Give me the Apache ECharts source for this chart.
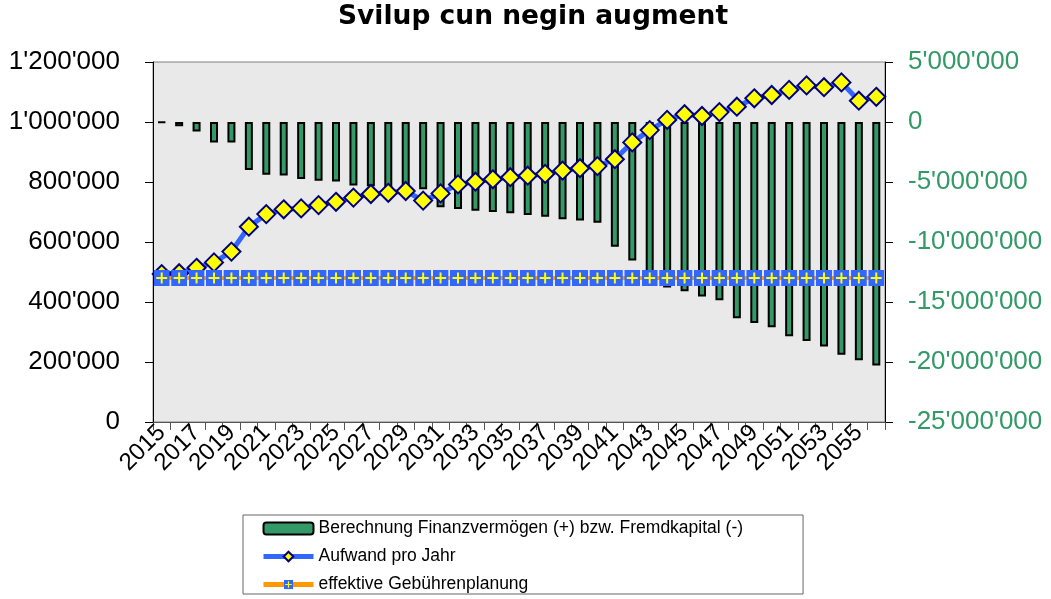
<!DOCTYPE html>
<html><head><meta charset="utf-8">
<script src="https://cdn.jsdelivr.net/npm/echarts@6/dist/echarts.min.js"></script>
<style>html,body{margin:0;padding:0;background:#fff}#c{width:1051px;height:599px}</style>
</head><body><div id="c"></div>
<script>
var years = [];
for (var y = 2015; y <= 2056; y++) years.push(String(y));
var finanz = [-50000,-350000,-800000,-1700000,-1700000,-4000000,-4400000,-4450000,-4750000,-4900000,-4950000,-5300000,-5350000,-5450000,-5550000,-5600000,-7100000,-7250000,-7400000,-7500000,-7600000,-7750000,-7900000,-8100000,-8200000,-8400000,-10400000,-11550000,-12800000,-13800000,-14100000,-14550000,-14850000,-16350000,-16750000,-17100000,-17850000,-18250000,-18700000,-19400000,-19850000,-20300000];
var aufwand = [493000,496000,514000,532000,568000,651000,693000,709000,712000,723000,734000,748000,760000,764000,770000,738000,762000,792000,801000,809000,816000,821000,827000,838000,846000,853000,876000,932000,973000,1007000,1026000,1020000,1033000,1051000,1079000,1090000,1107000,1122000,1116000,1132000,1071000,1084000];
var gebuehren = [480000,480000,480000,480000,480000,480000,480000,480000,480000,480000,480000,480000,480000,480000,480000,480000,480000,480000,480000,480000,480000,480000,480000,480000,480000,480000,480000,480000,480000,480000,480000,480000,480000,480000,480000,480000,480000,480000,480000,480000,480000,480000];
var seriesNames = ['Berechnung Finanzvermögen (+) bzw. Fremdkapital (-)','Aufwand pro Jahr','effektive Gebührenplanung'];

function fmt(v){ return String(v).replace(/\B(?=(\d{3})+(?!\d))/g, "'"); }
var plusSvg = "<svg xmlns='http://www.w3.org/2000/svg' width='16' height='16'><rect width='16' height='16' fill='#3366FF'/><path d='M8 2.5V13.5M2.5 8H13.5' stroke='#FFFF00' stroke-width='2'/></svg>";
var plusSymbol = 'image://data:image/svg+xml;charset=utf-8,' + encodeURIComponent(plusSvg);

var chart = echarts.init(document.getElementById('c'), null, {renderer:'canvas'});
chart.setOption({
  animation: false,
  backgroundColor: '#ffffff',
  title: {
    text: 'Svilup cun negin augment', left: 333, top: -1,
    textStyle: {fontFamily: 'DejaVu Sans', fontWeight: 'bold', fontSize: 26.5, color: '#000'}
  },
  grid: {left: 153, right: 166, top: 62, bottom: 177, show: true, backgroundColor: '#e9e9e9', borderColor: '#808080', borderWidth: 1},
  legend: {
    orient: 'vertical', left: 243, top: 515,
    padding: [4, 60, 0, 18],
    itemWidth: 50, itemHeight: 12, itemGap: 9,
    borderColor: '#666', borderWidth: 1, backgroundColor: '#fff',
    textStyle: {fontFamily: 'Liberation Sans, Arial', fontSize: 17.5, color: '#000', lineHeight: 19},
    data: [
      {name: seriesNames[0]},
      {name: seriesNames[1], lineStyle: {width: 5, color: '#3366FF'}},
      {name: seriesNames[2], lineStyle: {width: 5, color: '#FF9900'}}
    ]
  },
  xAxis: {
    type: 'category', data: years, boundaryGap: true,
    axisLine: {lineStyle: {color: '#555', width: 1}},
    axisTick: {show: true, length: 8, alignWithLabel: false, interval: 0, lineStyle: {color: '#555'}},
    axisLabel: {interval: 1, rotate: 45, margin: 7, fontFamily: 'Liberation Sans, Arial', fontSize: 24, color: '#000'}
  },
  yAxis: [
    {type: 'value', min: 0, max: 1200000, interval: 200000, position: 'left',
     axisLine: {show: true, lineStyle: {color: '#000'}},
     axisTick: {show: true, length: 8, lineStyle: {color: '#000'}},
     splitLine: {show: false},
     axisLabel: {formatter: fmt, margin: 33, fontFamily: 'Liberation Sans, Arial', fontSize: 26, color: '#000'}},
    {type: 'value', min: -25000000, max: 5000000, interval: 5000000, position: 'right',
     axisLine: {show: true, lineStyle: {color: '#000'}},
     axisTick: {show: true, length: 8, lineStyle: {color: '#000'}},
     splitLine: {show: false},
     axisLabel: {formatter: fmt, margin: 23, fontFamily: 'Liberation Sans, Arial', fontSize: 26, color: '#339966'}}
  ],
  series: [
    {name: seriesNames[0], type: 'bar', yAxisIndex: 1, data: finanz, barWidth: 8, z: 2,
     itemStyle: {color: '#339966', borderColor: '#000', borderWidth: 2}},
    {name: seriesNames[1], type: 'line', yAxisIndex: 0, data: aufwand, z: 3,
     symbol: 'diamond', symbolSize: 18, showAllSymbol: true,
     lineStyle: {color: '#3366FF', width: 5},
     itemStyle: {color: '#FFFF00', borderColor: '#000080', borderWidth: 2}},
    {name: seriesNames[2], type: 'line', yAxisIndex: 0, data: gebuehren, z: 4,
     symbol: plusSymbol, symbolSize: 16, showAllSymbol: true,
     lineStyle: {color: '#FF9900', width: 4},
     itemStyle: {color: '#FF9900'}}
  ]
});
</script></body></html>
